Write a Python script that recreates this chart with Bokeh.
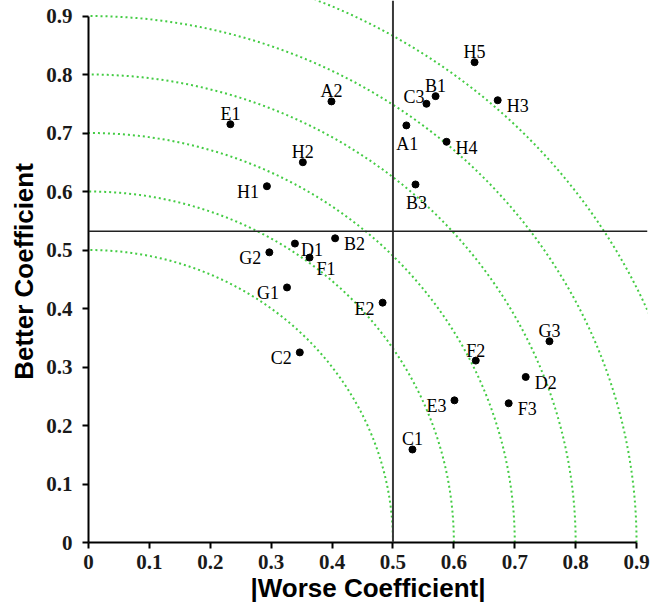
import numpy as np
from bokeh.plotting import figure
from bokeh.models import ColumnDataSource, Span, Range1d, FixedTicker
from bokeh.core.properties import value
from bokeh.embed import file_html
from bokeh.resources import INLINE

# ---- data ----
names = ["E1", "H2", "H1", "G2", "D1", "F1", "G1", "A2", "H5", "B1", "C3", "H3",
         "A1", "H4", "B3", "B2", "E2", "C2", "G3", "F2", "D2", "E3", "F3", "C1"]
worse = [0.233, 0.352, 0.293, 0.297, 0.339, 0.363, 0.326, 0.399, 0.634, 0.570, 0.555, 0.672,
         0.522, 0.588, 0.537, 0.405, 0.483, 0.347, 0.757, 0.636, 0.718, 0.601, 0.690, 0.532]
better = [0.715, 0.650, 0.609, 0.496, 0.511, 0.487, 0.436, 0.754, 0.821, 0.763, 0.750, 0.756,
          0.713, 0.685, 0.612, 0.520, 0.410, 0.325, 0.344, 0.311, 0.283, 0.243, 0.238, 0.159]
label_side = ["above", "above", "left", "left", "right_near", "right_low", "left", "above", "above",
              "above", "above_left", "right", "below", "right", "below", "right", "left", "left",
              "above", "above", "right", "left", "right", "above"]
radii = [0.5, 0.6, 0.7, 0.8, 0.9, 1.0]
worse_mean = 0.5
better_mean = 0.532
tick_values = [0, 0.1, 0.2, 0.3, 0.4, 0.5, 0.6, 0.7, 0.8, 0.9]
tick_labels = ["0", "0.1", "0.2", "0.3", "0.4", "0.5", "0.6", "0.7", "0.8", "0.9"]

# ---- label placement styles ----
side_style = {
    "above": (0, -10, "center"),
    "below": (1, 19, "center"),
    "left": (-8, 6, "right"),
    "right": (9, 6, "left"),
    "right_near": (6, 6, "left"),
    "right_low": (7, 11, "left"),
    "above_left": (-2, -7, "right"),
}
xo = [side_style[s][0] for s in label_side]
yo = [side_style[s][1] for s in label_side]
al = [side_style[s][2] for s in label_side]

src = ColumnDataSource(dict(x=worse, y=better, name=names, xo=xo, yo=yo, al=al))

p = figure(width=650, height=607, output_backend="svg", toolbar_location=None,
           x_range=Range1d(0, 0.918), y_range=Range1d(0, 0.9265),
           min_border_left=88, min_border_right=3, min_border_top=0, min_border_bottom=65)
p.grid.visible = False
p.outline_line_color = None
p.background_fill_color = "white"

# iso-circles
theta = np.linspace(0, np.pi / 2, 200)
xs = [list(r * np.cos(theta)) for r in radii]
ys = [list(r * np.sin(theta)) for r in radii]
p.multi_line(xs, ys, line_color="#44cc44", line_width=2, line_dash="2 3")

# quadrant lines
p.add_layout(Span(location=worse_mean, dimension="height", line_color="#3a3a3a", line_width=2))
p.add_layout(Span(location=better_mean, dimension="width", line_color="#222222", line_width=1.6))

# points
p.scatter("x", "y", source=src, size=7, color="black")
p.text("x", "y", text="name", source=src, x_offset="xo", y_offset="yo", text_align="al",
       text_baseline="alphabetic", text_font=value("Liberation Serif"), text_font_size="18px",
       text_color="black")

# axes
overrides = {v: l for v, l in zip(tick_values, tick_labels)}
for ax in (p.xaxis[0], p.yaxis[0]):
    ax.ticker = FixedTicker(ticks=tick_values)
    ax.major_label_overrides = overrides
    ax.bounds = (0, 0.9)
    ax.axis_line_color = "black"
    ax.axis_line_width = 2
    ax.major_tick_line_color = "black"
    ax.major_tick_line_width = 2
    ax.major_tick_out = 6
    ax.major_tick_in = 0
    ax.minor_tick_line_color = None
    ax.major_label_text_font = "Liberation Serif"
    ax.major_label_text_font_style = "bold"
    ax.major_label_text_font_size = "21px"
    ax.major_label_text_color = "#1a1a1a"
    ax.axis_label_text_font = "Liberation Sans"
    ax.axis_label_text_font_style = "bold"
    ax.axis_label_text_font_size = "26px"
    ax.axis_label_text_color = "black"

p.xaxis.axis_label = "|Worse Coefficient|"
p.yaxis.axis_label = "Better Coefficient"
p.xaxis.major_label_standoff = 6
p.yaxis.major_label_standoff = 10
p.xaxis.axis_label_standoff = 1
p.yaxis.axis_label_standoff = 4

open("out.html", "w").write(file_html(p, INLINE))
